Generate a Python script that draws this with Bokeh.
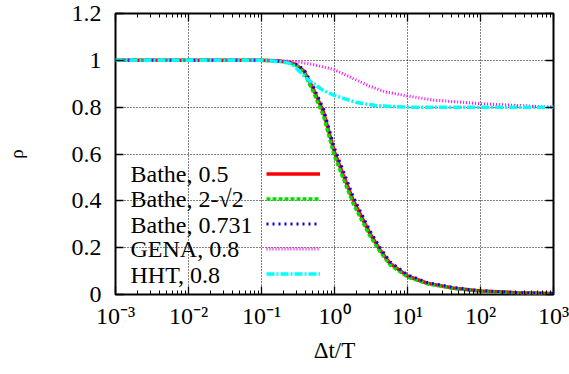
from bokeh.plotting import figure
from bokeh.models import (LogAxis, LinearAxis, FixedTicker, CustomJSTickFormatter,
                          Range1d, Legend, LegendItem, Label)
from bokeh.embed import file_html
from bokeh.resources import INLINE

# ---- data ----
dt_T = [0.001, 0.01, 0.1, 0.158, 0.224, 0.288, 0.38, 0.513, 0.708, 1.0, 1.32,
        1.82, 3.06, 4.22, 5.75, 10.0, 18.6, 43.7, 100.0, 316.0, 1000.0]
bathe_05 = [1.0, 1.0, 1.0, 0.998, 0.993, 0.984, 0.955, 0.877, 0.778, 0.608, 0.51,
            0.40, 0.26, 0.19, 0.133, 0.079, 0.048, 0.027, 0.015, 0.008, 0.004]
bathe_2s2 = [1.0, 1.0, 1.0, 0.998, 0.992, 0.982, 0.948, 0.865, 0.762, 0.59, 0.495,
             0.385, 0.25, 0.182, 0.127, 0.075, 0.046, 0.026, 0.014, 0.007, 0.003]
bathe_0731 = [1.0, 1.0, 1.0, 0.998, 0.994, 0.986, 0.962, 0.888, 0.792, 0.625, 0.528,
              0.415, 0.272, 0.2, 0.14, 0.084, 0.051, 0.029, 0.016, 0.008, 0.004]

gena_x = [0.001, 0.01, 0.1, 0.2, 0.3, 0.5, 1.0, 1.82, 3.0, 5.0, 10.0, 23.0, 100.0, 1000.0]
gena_08 = [1.0, 1.0, 1.0, 0.998, 0.994, 0.983, 0.96, 0.922, 0.89, 0.865, 0.848, 0.83, 0.815, 0.80]

hht_x = [0.001, 0.01, 0.1, 0.12, 0.2, 0.26, 0.31, 0.38, 0.45, 0.71, 1.0, 2.0, 3.8, 10.0, 100.0, 1000.0]
hht_08 = [1.0, 1.0, 1.0, 0.999, 0.993, 0.984, 0.962, 0.934, 0.913, 0.87, 0.85, 0.82, 0.806, 0.80, 0.80, 0.80]

labels = ["Bathe, 0.5", "Bathe, 2-\u221a2", "Bathe, 0.731", "GENA, 0.8", "HHT, 0.8"]
x_major = [0.001, 0.01, 0.1, 1.0, 10.0, 100.0, 1000.0]
y_major = [0.0, 0.2, 0.4, 0.6, 0.8, 1.0, 1.2]

FONT = "Liberation Serif"

p = figure(x_axis_type="log", frame_width=438, frame_height=281,
           min_border_left=115, min_border_right=16, min_border_top=13, min_border_bottom=80,
           x_range=Range1d(0.001, 1000), y_range=Range1d(0, 1.2),
           output_backend="svg", toolbar_location=None,
           background_fill_color="white", border_fill_color="white")

p.outline_line_color = "black"
p.outline_line_width = 2

minor = [m * d for d in [0.001, 0.01, 0.1, 1, 10, 100] for m in range(2, 10)]
xt = FixedTicker(ticks=x_major, minor_ticks=minor)
yt = FixedTicker(ticks=y_major)

xfmt = CustomJSTickFormatter(code="""
const e = Math.round(Math.log10(tick));
const sup = {'-':'\u207b','0':'\u2070','1':'\u00b9','2':'\u00b2','3':'\u00b3'};
return '10' + String(e).split('').map(c => sup[c]).join('');
""")
yfmt = CustomJSTickFormatter(code="return String(Math.round(tick*10)/10);")
blank = CustomJSTickFormatter(code="return '';")

def style_axis(ax, show_labels):
    ax.axis_line_color = None
    ax.major_tick_in = 8
    ax.major_tick_out = 0
    ax.major_tick_line_width = 1.3
    ax.minor_tick_in = 4
    ax.minor_tick_out = 0
    ax.major_label_text_font = FONT
    ax.major_label_text_font_size = "24px"
    ax.major_label_text_color = "black"
    ax.axis_label_text_font = FONT
    ax.axis_label_text_font_style = "normal"
    ax.axis_label_text_font_size = "23px"
    ax.axis_label_text_color = "black"
    if not show_labels:
        ax.major_label_text_font_size = "0px"
        ax.major_label_standoff = 0

xa = p.xaxis[0]
xa.ticker = xt
xa.formatter = xfmt
style_axis(xa, True)
xa.major_label_standoff = 8
xa.axis_label = "\u0394t/T"
xa.axis_label_standoff = 6

ya = p.yaxis[0]
ya.ticker = yt
ya.formatter = yfmt
style_axis(ya, True)
ya.minor_tick_in = 0
ya.major_label_standoff = 14
ya.axis_label = "\u03c1"
ya.axis_label_text_font_size = "19px"
ya.axis_label_standoff = 42

top = LogAxis(ticker=xt, formatter=blank)
style_axis(top, False)
p.add_layout(top, "above")
right = LinearAxis(ticker=yt, formatter=blank)
style_axis(right, False)
right.minor_tick_in = 0
p.add_layout(right, "right")

p.xgrid.ticker = xt
p.ygrid.ticker = yt
for g in (p.xgrid[0], p.ygrid[0]):
    g.grid_line_color = "black"
    g.grid_line_dash = "1 2"
    g.grid_line_width = 1
    g.grid_line_alpha = 1.0

r1 = p.line(dt_T, bathe_05, line_color="#ff0000", line_width=3.5)
r2 = p.line(dt_T, bathe_2s2, line_color="#00e000", line_width=3.5, line_dash="4 2")
r3 = p.line(dt_T, bathe_0731, line_color="#0000ff", line_width=3, line_dash="2 4")
r4 = p.line(gena_x, gena_08, line_color="#ff00ff", line_width=3, line_dash="1 2")
r5 = p.line(hht_x, hht_08, line_color="#00ffff", line_width=3.5, line_dash="8 2 2 2")

renderers = [r1, r2, r3, r4, r5]
legend = Legend(items=[LegendItem(label=" ", renderers=[r]) for r in renderers],
                location=(151, 8), orientation="vertical",
                glyph_width=54, glyph_height=25, spacing=0, padding=0, margin=0,
                label_width=0, label_height=25, label_standoff=0,
                label_text_font_size="1px",
                background_fill_alpha=0, border_line_color=None)
p.add_layout(legend, "center")

ys = [121, 96, 70, 46, 20]
for txt, yy in zip(labels, ys):
    p.add_layout(Label(x=15, y=yy, x_units="screen", y_units="screen", text=txt,
                       text_font=FONT, text_font_size="24px", text_baseline="middle",
                       text_align="left", text_color="black"))

open("out.html", "w").write(file_html(p, INLINE))
